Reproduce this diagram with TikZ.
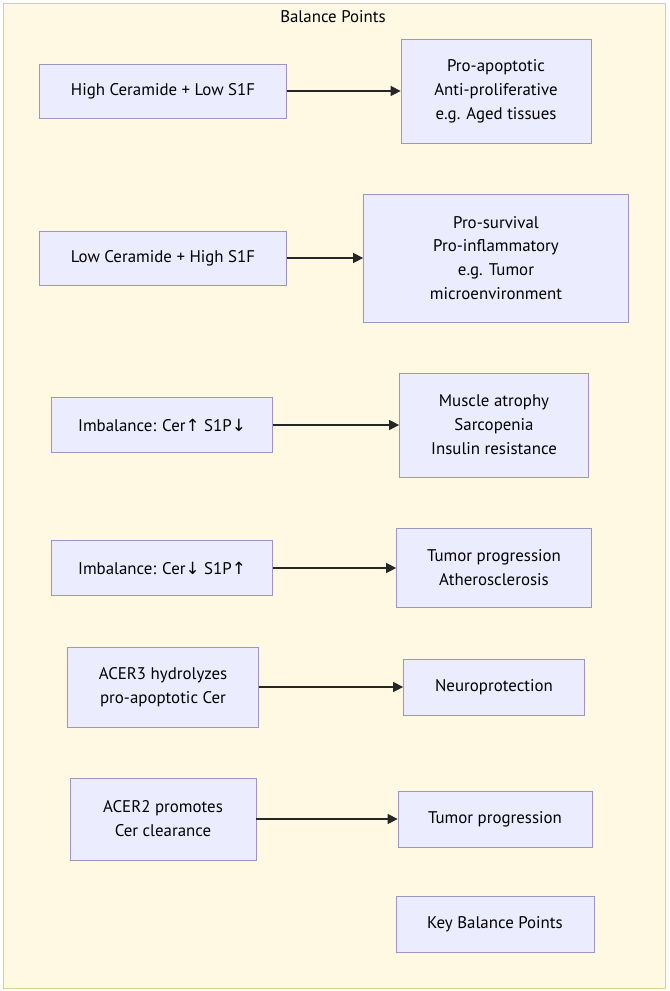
\documentclass[tikz,border=0pt]{standalone}
\usepackage{fontspec}
\setmainfont{PT Sans}
\newfontfamily\arrowfont{DejaVu Sans}
\usepackage{tikz}
\usetikzlibrary{arrows.meta, positioning, backgrounds}
\definecolor{framefill}{HTML}{FFF8E2}
\definecolor{framedraw}{HTML}{D9CE94}
\definecolor{boxfill}{HTML}{ECECFF}
\definecolor{boxdraw}{HTML}{9F94C4}
\newcommand{\uparr}{{\arrowfont\char"2191}}
\newcommand{\downarr}{{\arrowfont\char"2193}}
\tikzstyle{cause}  = [rectangle, minimum width=4.94cm, minimum height=1.08cm,
                      text centered, align=center, draw=boxdraw, fill=boxfill,
                      font=\fontsize{9.6}{13.6}\selectfont]
\tikzstyle{effect} = [cause, minimum width=3.8cm, minimum height=2.08cm]
\tikzstyle{frame}  = [draw=framedraw, fill=framefill]
\tikzstyle{arrow}  = [line width=0.6pt, draw=black!85,
                      -{Triangle[length=2mm, width=2mm]}]

\begin{document}
\begin{tikzpicture}[node distance=1.0cm]
\useasboundingbox (0,0) rectangle (13.38,-19.82);
\node (hcl) [cause] at (3.26,-1.82) {High Ceramide + Low S1F};
\node (lch) [cause, below of=hcl, yshift=-2.34cm] {Low Ceramide + High S1F};
\node (imu) [cause, below of=lch, yshift=-2.34cm, xshift=-0.02cm,
             minimum width=4.42cm, minimum height=1.1cm] {Imbalance: Cer\uparr{} S1P\downarr};
\node (imd) [cause, below of=imu, yshift=-1.86cm,
             minimum width=4.42cm, minimum height=1.1cm] {Imbalance: Cer\downarr{} S1P\uparr};
\node (ac3) [cause, below of=imd, yshift=-1.38cm, xshift=0.02cm,
             minimum width=3.82cm, minimum height=1.6cm] {ACER3 hydrolyzes\\pro-apoptotic Cer};
\node (ac2) [cause, below of=ac3, yshift=-1.64cm,
             minimum width=3.72cm, minimum height=1.64cm] {ACER2 promotes\\Cer clearance};

\node (apo) [effect, right of=hcl, xshift=5.66cm] {Pro-apoptotic\\Anti-proliferative\\e.g. Aged tissues};
\node (sur) [effect, right of=lch, xshift=5.66cm, minimum width=5.3cm,
             minimum height=2.56cm] {Pro-survival\\Pro-inflammatory\\e.g. Tumor\\microenvironment};
\node (mus) [effect, right of=imu, xshift=5.64cm, minimum width=3.78cm] {Muscle atrophy\\Sarcopenia\\Insulin resistance};
\node (tum) [effect, right of=imd, xshift=5.64cm, minimum width=3.9cm,
             minimum height=1.58cm] {Tumor progression\\Atherosclerosis};
\node (neu) [effect, right of=ac3, xshift=5.62cm, minimum width=3.62cm,
             minimum height=1.12cm] {Neuroprotection};
\node (prg) [effect, right of=ac2, xshift=5.64cm, minimum width=3.88cm,
             minimum height=1.12cm] {Tumor progression};
\node (key) [effect, below of=prg, yshift=-1.1cm, minimum width=3.96cm,
             minimum height=1.12cm] {Key Balance Points};

\begin{scope}[on background layer]
  \draw [frame] (0.06,-0.06) rectangle (13.3,-19.76);
\end{scope}
\node (ttl) at (6.66,-0.34) [font=\fontsize{9.6}{11}\selectfont] {Balance Points};

\draw [arrow] (hcl) -- (apo);
\draw [arrow] (lch) -- (sur);
\draw [arrow] (imu) -- (mus);
\draw [arrow] (imd) -- (tum);
\draw [arrow] (ac3) -- (neu);
\draw [arrow] (ac2) -- (prg);
\end{tikzpicture}
\end{document}
